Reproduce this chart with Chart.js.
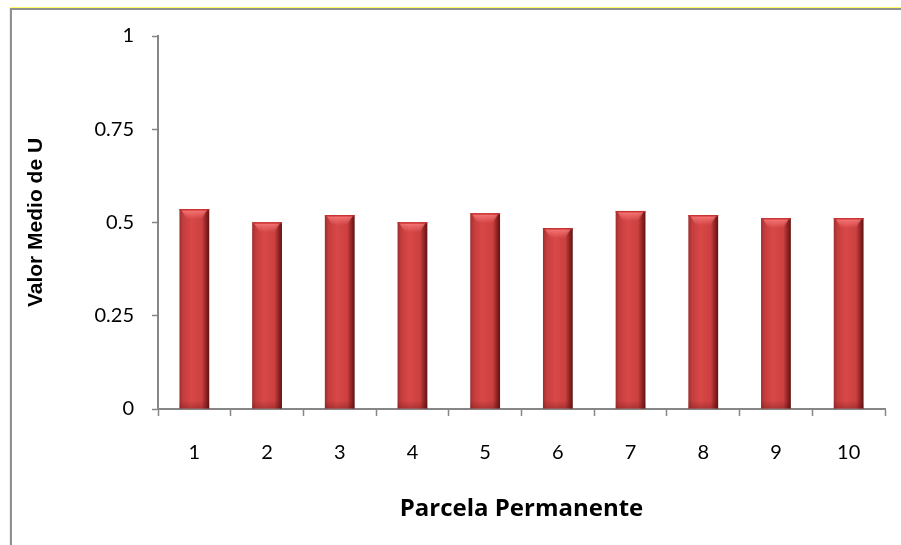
<!DOCTYPE html>
<html>
<head>
<meta charset="utf-8">
<script src="https://cdn.jsdelivr.net/npm/chart.js@4"></script>
<style>
  body { margin: 0; background: #fff; }
  #wrap { position: relative; width: 901px; height: 545px; }
</style>
</head>
<body>
<div id="wrap"><canvas id="chart" width="901" height="545"></canvas></div>
<script>
const parcelas = ['1', '2', '3', '4', '5', '6', '7', '8', '9', '10'];
const valorMedio = [0.536, 0.501, 0.520, 0.501, 0.525, 0.485, 0.531, 0.520, 0.512, 0.512];
const yTicks = [0, 0.25, 0.5, 0.75, 1];

const axisGray = '#868686';

// cylinder shading across each bar, built from the x scale
function barFill(ctx) {
    const chart = ctx.chart;
    const x = chart.scales.x;
    if (!chart.chartArea || !x || ctx.dataIndex === undefined) return '#c83c3c';
    const cat = x.width / parcelas.length;
    const cx = x.getPixelForValue(ctx.dataIndex);
    const w = cat * 0.41;
    if (!isFinite(cx) || !isFinite(w) || w <= 0) return '#c83c3c';
    const g = chart.ctx.createLinearGradient(cx - w / 2, 0, cx + w / 2, 0);
    g.addColorStop(0, '#9e2e2e');
    g.addColorStop(0.12, '#c43c3c');
    g.addColorStop(0.4, '#d84848');
    g.addColorStop(0.75, '#cc4040');
    g.addColorStop(0.9, '#8e2222');
    g.addColorStop(1, '#5c1414');
    return g;
}

// light cap on top of each bar and darker foot
const barCaps = {
    id: 'barCaps',
    afterDatasetsDraw(chart) {
        const c = chart.ctx;
        chart.getDatasetMeta(0).data.forEach(bar => {
            const { x, y, base, width } = bar.getProps(['x', 'y', 'base', 'width'], true);
            const l = x - width / 2, r = x + width / 2;
            c.save();
            const cap = c.createLinearGradient(0, y, 0, y + 10);
            cap.addColorStop(0, 'rgba(255,130,130,0.9)');
            cap.addColorStop(1, 'rgba(255,130,130,0)');
            c.fillStyle = cap;
            c.beginPath();
            c.moveTo(l + 2, y + 1);
            c.lineTo(r - 2, y + 1);
            c.lineTo(r - width * 0.25, y + 10);
            c.lineTo(l + width * 0.25, y + 10);
            c.closePath();
            c.fill();
            c.fillStyle = 'rgba(200,50,50,0.9)';
            c.fillRect(l, y, width, 1.5);
            const foot = c.createLinearGradient(0, base - 8, 0, base);
            foot.addColorStop(0, 'rgba(90,15,15,0)');
            foot.addColorStop(1, 'rgba(90,15,15,0.3)');
            c.fillStyle = foot;
            c.fillRect(l, base - 8, width, 8);
            c.restore();
        });
    }
};

// frame around the whole chart
const frame = {
    id: 'frame',
    beforeDraw(chart) {
        const c = chart.ctx;
        c.save();
        c.strokeStyle = '#ffff66';
        c.lineWidth = 1;
        c.beginPath();
        c.moveTo(9.5, 560); c.lineTo(9.5, 7.5); c.lineTo(920, 7.5);
        c.stroke();
        c.strokeStyle = '#909090';
        c.lineWidth = 2;
        c.beginPath();
        c.moveTo(11, 560); c.lineTo(11, 9); c.lineTo(920, 9);
        c.stroke();
        c.restore();
    }
};

new Chart(document.getElementById('chart'), {
    type: 'bar',
    data: {
        labels: parcelas,
        datasets: [{
            data: valorMedio,
            backgroundColor: barFill,
            borderWidth: 0,
            categoryPercentage: 1,
            barPercentage: 0.41
        }]
    },
    options: {
        responsive: false,
        animation: false,
        layout: { padding: { top: 36, right: 16, left: 0, bottom: 0 } },
        plugins: { legend: { display: false }, tooltip: { enabled: false } },
        scales: {
            x: {
                afterFit(s) { s.height = 136; },
                grid: {
                    offset: true,
                    drawOnChartArea: false,
                    color: axisGray,
                    tickLength: 7,
                    tickWidth: 1.5
                },
                border: { color: axisGray, width: 2 },
                ticks: {
                    color: '#000',
                    padding: 25,
                    font: { family: 'Lato', size: 20 }
                },
                title: {
                    display: true,
                    text: 'Parcela Permanente',
                    color: '#000',
                    font: { family: 'Open Sans', size: 24, weight: 'bold' },
                    padding: { bottom: 21 }
                }
            },
            y: {
                min: 0,
                max: 1,
                afterFit(s) { s.width = 158; },
                afterBuildTicks(s) { s.ticks = yTicks.map(v => ({ value: v })); },
                grid: {
                    drawOnChartArea: false,
                    color: axisGray,
                    tickLength: 6,
                    tickWidth: 1.5
                },
                border: { color: axisGray, width: 2 },
                ticks: {
                    color: '#000',
                    padding: 18,
                    font: { family: 'Lato', size: 20 },
                    callback: v => String(v)
                },
                title: {
                    display: true,
                    text: 'Valor Medio de U',
                    color: '#000',
                    font: { family: 'Liberation Sans', size: 21, weight: 'bold' },
                    padding: { top: 24 }
                }
            }
        }
    },
    plugins: [frame, barCaps]
});
</script>
</body>
</html>
